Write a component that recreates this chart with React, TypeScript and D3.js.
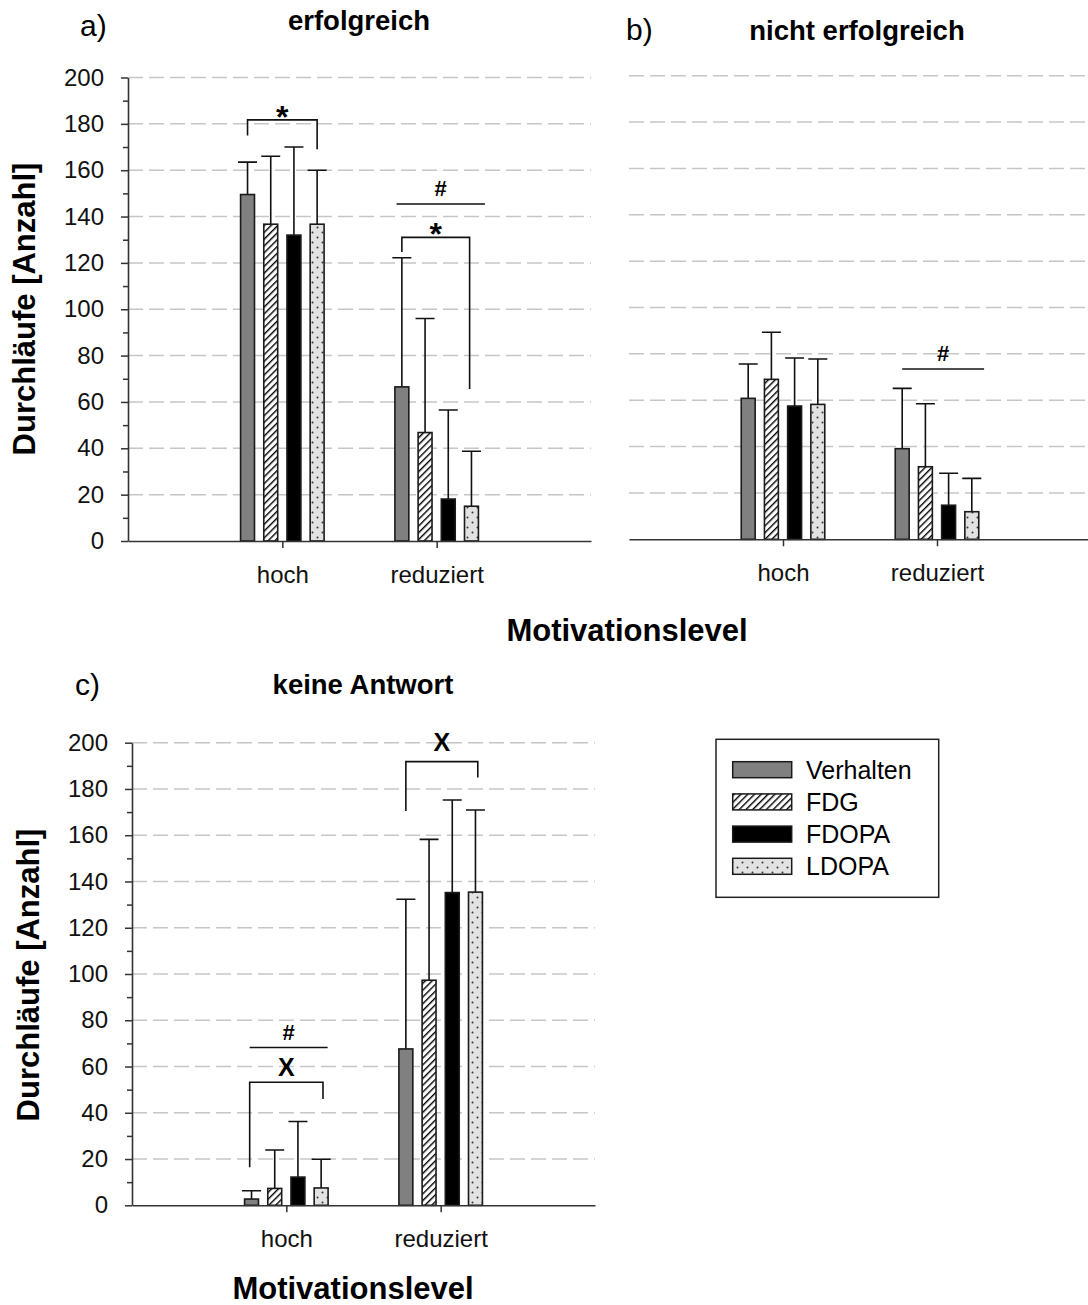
import React, { useEffect, useRef } from "react";
import * as d3 from "d3";

const series = ["Verhalten", "FDG", "FDOPA", "LDOPA"];
const levels = ["hoch", "reduziert"];
const yTicks = [0, 20, 40, 60, 80, 100, 120, 140, 160, 180, 200];
const yMinor = [10, 30, 50, 70, 90, 110, 130, 150, 170, 190];

// a) erfolgreich
const erfolgHoch = [149.5, 136.7, 132, 136.7];
const erfolgHochSd = [14, 29.3, 38, 23.3];
const erfolgRed = [66.5, 46.8, 18.1, 15];
const erfolgRedSd = [55.7, 49.2, 38.4, 23.7];

// b) nicht erfolgreich
const nichtHoch = [60.8, 69, 57.5, 58.2];
const nichtHochSd = [14.8, 20.3, 20.7, 19.6];
const nichtRed = [39.1, 31.3, 14.7, 11.9];
const nichtRedSd = [26, 27.2, 13.8, 14.4];

// c) keine Antwort
const keineHoch = [2.7, 7.3, 12.2, 7.5];
const keineHochSd = [3.6, 16.6, 24, 12.4];
const keineRed = [67.6, 97.3, 135.2, 135.4];
const keineRedSd = [64.7, 60.9, 40, 35.5];

// significance marks: bar index range (fractional) and heights in data units
const marksA = [
  { level: "hoch", from: 0, to: 3, y: 181.7, left: 175, right: 169, label: "*" },
  { level: "reduziert", from: -0.23, to: 3.58, y: 145.4, label: "#" },
  { level: "reduziert", from: 0, to: 2.92, y: 131, left: 124.7, right: 65.6, label: "*" },
];
const marksB = [{ level: "reduziert", from: 0, to: 3.53, y: 73.5, label: "#" }];
const marksC = [
  { level: "hoch", from: -0.08, to: 3.28, y: 68.2, label: "#" },
  { level: "hoch", from: -0.08, to: 3.08, y: 53.2, left: 16.4, right: 46, label: "X" },
  { level: "reduziert", from: 0, to: 3.1, y: 191.8, left: 170.5, right: 185, label: "X" },
];

const fills = ["#808080", "url(#hatch)", "#000000", "url(#dots)"];
const FONT = "'Liberation Sans', Arial, sans-serif";

const panels = [
  {
    left: 128, right: 591, top: 77.5, bottom: 541, yAxis: true,
    data: { hoch: [erfolgHoch, erfolgHochSd], reduziert: [erfolgRed, erfolgRedSd] },
    marks: marksA,
    tag: "a)", tagX: 80, tagY: 36, title: "erfolgreich", titleX: 359, titleY: 30,
    yTitleX: 35, yTitleY: 309,
  },
  {
    left: 629, right: 1091, top: 75.7, bottom: 539.3, yAxis: false,
    data: { hoch: [nichtHoch, nichtHochSd], reduziert: [nichtRed, nichtRedSd] },
    marks: marksB,
    tag: "b)", tagX: 626, tagY: 40, title: "nicht erfolgreich", titleX: 857, titleY: 39.5,
  },
  {
    left: 132, right: 595, top: 742.7, bottom: 1205.3, yAxis: true,
    data: { hoch: [keineHoch, keineHochSd], reduziert: [keineRed, keineRedSd] },
    marks: marksC,
    tag: "c)", tagX: 75, tagY: 695, title: "keine Antwort", titleX: 363, titleY: 694,
    yTitleX: 39, yTitleY: 975,
  },
];

function drawPanel(svg, p) {
  const g = svg.append("g");
  const x = d3.scalePoint().domain(levels).range([p.left, p.right]).padding(1);
  const y = d3.scaleLinear().domain([0, 200]).range([p.bottom, p.top]);
  const inner = d3.scaleBand().domain(series).range([-46.4, 46.4]).paddingInner(0.4).paddingOuter(0.2);
  const bw = inner.bandwidth();
  const barCenter = (level, i) => x(level) + inner(series[0]) + bw / 2 + i * inner.step();

  // dashed grid
  g.selectAll(".grid")
    .data(yTicks.filter((d) => d > 0))
    .join("line")
    .attr("class", "grid")
    .attr("x1", p.left)
    .attr("x2", p.right)
    .attr("y1", (d) => y(d))
    .attr("y2", (d) => y(d))
    .attr("stroke", "#c6c6c6")
    .attr("stroke-width", 1.5)
    .attr("stroke-dasharray", "15,6");

  if (p.yAxis) {
    const ax = g.append("g").attr("transform", `translate(${p.left},0)`)
      .call(d3.axisLeft(y).tickValues(yTicks).tickSize(7).tickSizeOuter(0).tickPadding(17));
    ax.selectAll("text").attr("font-size", 24).attr("font-family", FONT).attr("fill", "#111");
    const mn = g.append("g").attr("transform", `translate(${p.left},0)`)
      .call(d3.axisLeft(y).tickValues(yMinor).tickSize(5).tickFormat(() => ""));
    mn.select(".domain").remove();
    [ax, mn].forEach((a) => {
      a.selectAll("line").attr("stroke", "#333").attr("stroke-width", 1.5);
      a.select(".domain").attr("stroke", "#333").attr("stroke-width", 1.6);
    });
  }

  // bars
  levels.forEach((level) => {
    const [means, sds] = p.data[level];
    const grp = g.append("g");
    grp.selectAll(".err")
      .data(means)
      .join("path")
      .attr("class", "err")
      .attr("d", (m, i) => {
        const cx = barCenter(level, i);
        const top = y(m + sds[i]);
        return `M${cx},${y(m)}V${top}M${cx - 9.5},${top}H${cx + 9.5}`;
      })
      .attr("stroke", "#111")
      .attr("stroke-width", 1.6)
      .attr("fill", "none");
    grp.selectAll(".bar")
      .data(means)
      .join("rect")
      .attr("class", "bar")
      .attr("x", (m, i) => barCenter(level, i) - bw / 2)
      .attr("width", bw)
      .attr("y", (m) => y(m))
      .attr("height", (m) => y(0) - y(m))
      .attr("fill", (m, i) => fills[i])
      .attr("stroke", "#1a1a1a")
      .attr("stroke-width", 1.6);
  });

  // x axis
  const xa = g.append("g").attr("transform", `translate(0,${p.bottom})`)
    .call(d3.axisBottom(x).tickSize(7).tickSizeOuter(0).tickPadding(18));
  xa.selectAll("line").attr("stroke", "#333").attr("stroke-width", 1.5);
  xa.select(".domain").attr("stroke", "#333").attr("stroke-width", 1.6);
  xa.selectAll("text").attr("font-size", 24).attr("font-family", FONT).attr("fill", "#111");

  // significance marks
  p.marks.forEach((mk) => {
    const xa0 = barCenter(mk.level, mk.from);
    const xa1 = barCenter(mk.level, mk.to);
    const ly = y(mk.y);
    const d = mk.left !== undefined
      ? `M${xa0},${y(mk.left)}V${ly}H${xa1}V${y(mk.right)}`
      : `M${xa0},${ly}H${xa1}`;
    g.append("path").attr("d", d).attr("fill", "none").attr("stroke", "#111").attr("stroke-width", 1.6);
    const isStar = mk.label === "*";
    const off = isStar ? 8 : mk.label === "X" && mk.y > 150 ? -11 : mk.label === "X" ? -6 : -8;
    g.append("text")
      .attr("x", (xa0 + xa1) / 2)
      .attr("y", ly + off)
      .attr("text-anchor", "middle")
      .attr("font-family", FONT)
      .attr("font-weight", "bold")
      .attr("font-size", isStar ? 32 : mk.label === "X" ? 25 : 22)
      .text(mk.label);
  });

  // titles
  svg.append("text").attr("x", p.tagX).attr("y", p.tagY).attr("font-family", FONT)
    .attr("font-size", 30).text(p.tag);
  svg.append("text").attr("x", p.titleX).attr("y", p.titleY).attr("text-anchor", "middle")
    .attr("font-family", FONT).attr("font-weight", "bold").attr("font-size", 27.5).text(p.title);
  if (p.yTitleX) {
    svg.append("text")
      .attr("transform", `translate(${p.yTitleX},${p.yTitleY}) rotate(-90)`)
      .attr("text-anchor", "middle").attr("font-family", FONT).attr("font-weight", "bold")
      .attr("font-size", 31).text("Durchläufe [Anzahl]");
  }
}

const App = () => {
  const ref = useRef(null);

  useEffect(() => {
    const svg = d3.select(ref.current);
    svg.selectAll("*").remove();

    const defs = svg.append("defs");
    const hatch = defs.append("pattern").attr("id", "hatch").attr("patternUnits", "userSpaceOnUse")
      .attr("width", 4.8).attr("height", 4.8).attr("patternTransform", "rotate(45)");
    hatch.append("rect").attr("width", 4.8).attr("height", 4.8).attr("fill", "#fff");
    hatch.append("line").attr("x1", 0).attr("y1", 0).attr("x2", 0).attr("y2", 4.8)
      .attr("stroke", "#000").attr("stroke-width", 2.8);
    const dots = defs.append("pattern").attr("id", "dots").attr("patternUnits", "userSpaceOnUse")
      .attr("width", 10).attr("height", 10);
    dots.append("rect").attr("width", 10).attr("height", 10).attr("fill", "#e2e2e2");
    dots.append("circle").attr("cx", 2.5).attr("cy", 2.5).attr("r", 1).attr("fill", "#333");
    dots.append("circle").attr("cx", 7.5).attr("cy", 7.5).attr("r", 1).attr("fill", "#333");

    panels.forEach((p) => drawPanel(svg, p));

    // x titles
    svg.append("text").attr("x", 627).attr("y", 641).attr("text-anchor", "middle")
      .attr("font-family", FONT).attr("font-weight", "bold").attr("font-size", 31).text("Motivationslevel");
    svg.append("text").attr("x", 353).attr("y", 1299).attr("text-anchor", "middle")
      .attr("font-family", FONT).attr("font-weight", "bold").attr("font-size", 31).text("Motivationslevel");

    // legend
    const lg = svg.append("g");
    lg.append("rect").attr("x", 716).attr("y", 739.3).attr("width", 222.7).attr("height", 158)
      .attr("fill", "#fff").attr("stroke", "#222").attr("stroke-width", 1.5);
    const rowY = d3.scalePoint().domain(series).range([769.7, 866.3]);
    series.forEach((s, i) => {
      lg.append("rect").attr("x", 732.7).attr("y", rowY(s) - 8).attr("width", 59).attr("height", 16)
        .attr("fill", fills[i]).attr("stroke", "#1a1a1a").attr("stroke-width", 1.5);
      lg.append("text").attr("x", 806).attr("y", rowY(s) + 9).attr("font-family", FONT)
        .attr("font-size", 25).text(s);
    });
  }, []);

  return (
    <svg
      ref={ref}
      width={1088}
      height={1305}
      style={{ position: "absolute", left: 0, top: 0, background: "#fff" }}
    />
  );
};

export default App;
